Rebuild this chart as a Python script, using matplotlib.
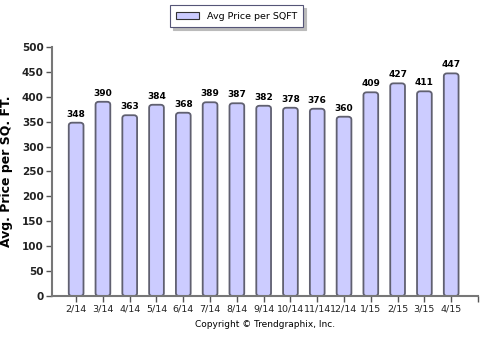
import matplotlib.pyplot as plt
from matplotlib.patches import FancyBboxPatch
import numpy as np

months = ["2/14", "3/14", "4/14", "5/14", "6/14", "7/14", "8/14", "9/14",
          "10/14", "11/14", "12/14", "1/15", "2/15", "3/15", "4/15"]
price_sqft = [348, 390, 363, 384, 368, 389, 387, 382, 378, 376, 360, 409, 427, 411, 447]

plt.rcParams['font.family'] = ['DejaVu Sans']

fig = plt.figure(figsize=(4.83, 3.40), dpi=100)
ax = fig.add_axes([0.1077, 0.1294, 0.8819, 0.7324])

x = np.arange(len(months))
width = 0.55
bars = ax.bar(x, price_sqft, width=width, color="none", edgecolor="none")

# rounded bar tops
for rect in bars:
    bx, by = rect.get_x(), rect.get_y()
    w, h = rect.get_width(), rect.get_height()
    patch = FancyBboxPatch((bx, by), w, h,
                           boxstyle="round,pad=0,rounding_size=0.12",
                           mutation_aspect=50,
                           facecolor="#ccccff", edgecolor="#606070", linewidth=1.3)
    ax.add_patch(patch)

for xi, v in zip(x, price_sqft):
    ax.text(xi, v + 8, str(v), ha="center", va="bottom", fontsize=6.5, fontweight="bold")

ax.set_xlim(-0.9, 15.0)
ax.set_ylim(0, 500)
ax.set_yticks(range(0, 501, 50))
ax.set_xticks(list(x) + [15.0])
ax.set_xticklabels(months + [""], fontsize=6.8)
for lbl in ax.get_yticklabels():
    lbl.set_fontsize(7.5)
    lbl.set_fontweight("bold")
    lbl.set_color("#222222")

for side in ["top", "right"]:
    ax.spines[side].set_visible(False)
for side in ["left", "bottom"]:
    ax.spines[side].set_color("#777777")
    ax.spines[side].set_linewidth(1.5)
ax.tick_params(axis="both", colors="#555555", length=4, width=1, pad=2, labelcolor="#222222")

ax.set_ylabel("Avg. Price per SQ. FT.", fontsize=9, fontweight="bold", labelpad=6)

leg_patch = plt.Rectangle((0, 0), 1, 1, facecolor="#ccccff", edgecolor="#333333", linewidth=0.8)
leg = fig.legend([leg_patch], ["Avg Price per SQFT"], loc="upper center",
                 bbox_to_anchor=(0.49, 0.998), fontsize=6.8, frameon=True, fancybox=False,
                 shadow={"color": "#bbbbbb", "alpha": 1.0, "ox": 2, "oy": -2},
                 handlelength=2.4, handleheight=0.9, borderpad=0.65)
leg.get_frame().set_edgecolor("#555577")
leg.get_frame().set_linewidth(0.8)

fig.text(0.548, 0.045, "Copyright \u00a9 Trendgraphix, Inc.", ha="center", va="center", fontsize=6.5)

fig.savefig("out.png", dpi=100)
